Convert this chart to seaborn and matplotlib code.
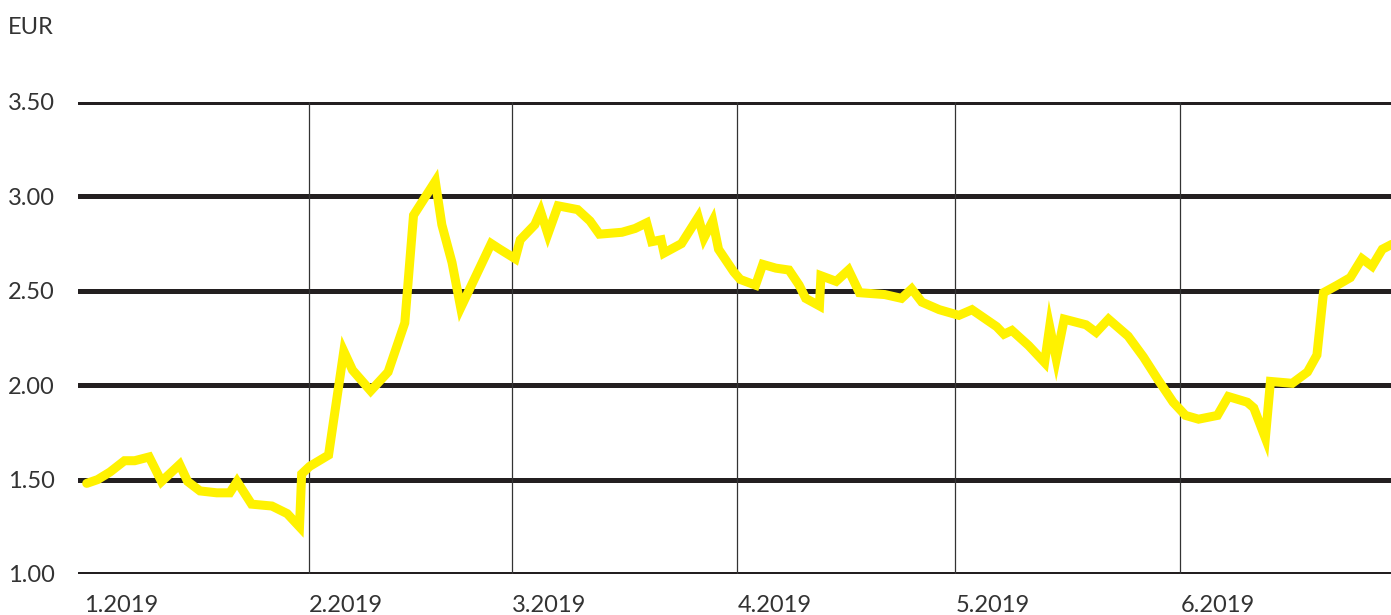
import numpy as np
import pandas as pd
import seaborn as sns
import matplotlib.pyplot as plt

# Share price. x = days since 1 Jan 2019
days = [0.4, 1.9, 3.6, 5.6, 7.0, 9.0, 10.7, 13.2, 14.3, 16.0, 18.3, 20.1, 21.1, 23.1,
        25.9, 28.0, 29.7, 30.0,
        31.1, 33.7, 35.8, 37.0, 39.5, 41.9, 44.2, 45.4, 48.4, 49.3, 50.7, 51.9, 56.1, 57.3,
        59.4, 60.1, 62.1, 62.9, 63.9, 65.3, 68.0, 69.7, 71.0, 74.1, 75.9, 77.5, 78.2, 79.5,
        79.9, 82.3, 84.6, 85.4, 86.6, 87.4, 89.5,
        90.4, 92.5, 93.5, 95.3, 97.1, 98.5, 99.4, 101.3, 101.5, 103.6, 105.3, 106.8, 110.3,
        112.6, 114.0, 115.4, 117.8,
        120.5, 122.3, 125.7, 126.7, 127.8, 130.1, 132.3, 133.0, 133.9, 135.0, 138.0, 139.4,
        141.1, 143.8, 145.9, 147.9, 150.0,
        151.7, 153.5, 156.1, 157.6, 160.2, 161.1, 162.7, 163.4, 166.4, 168.5, 169.8, 170.7,
        172.6, 174.4, 176.0, 177.4, 178.8, 180.3]
price = [1.48, 1.50, 1.54, 1.60, 1.60, 1.62, 1.49, 1.58, 1.49, 1.44, 1.43, 1.43, 1.49, 1.37,
         1.36, 1.32, 1.25, 1.53,
         1.57, 1.63, 2.18, 2.08, 1.97, 2.07, 2.33, 2.90, 3.08, 2.85, 2.65, 2.41, 2.75, 2.72,
         2.67, 2.77, 2.85, 2.92, 2.80, 2.95, 2.93, 2.87, 2.80, 2.81, 2.83, 2.86, 2.76, 2.77,
         2.70, 2.75, 2.89, 2.78, 2.87, 2.72, 2.60,
         2.56, 2.53, 2.64, 2.62, 2.61, 2.53, 2.46, 2.42, 2.58, 2.55, 2.61, 2.49, 2.48,
         2.46, 2.51, 2.44, 2.40,
         2.37, 2.40, 2.31, 2.27, 2.29, 2.21, 2.12, 2.31, 2.14, 2.35, 2.32, 2.28,
         2.35, 2.26, 2.15, 2.03, 1.91,
         1.84, 1.82, 1.84, 1.94, 1.91, 1.88, 1.72, 2.02, 2.01, 2.07, 2.16, 2.49,
         2.53, 2.57, 2.67, 2.63, 2.72, 2.75]

month_starts = [0, 31, 59, 90, 120, 151]
month_labels = ['1.2019', '2.2019', '3.2019', '4.2019', '5.2019', '6.2019']
y_ticks = [1.0, 1.5, 2.0, 2.5, 3.0, 3.5]

df = pd.DataFrame({'day': days, 'price': price})

sns.set_style('white')
plt.rcParams['font.family'] = ['Lato', 'DejaVu Sans']
text_col = '#333333'

fig = plt.figure(figsize=(13.91, 6.15), dpi=100)
ax = fig.add_axes([78 / 1391, 41 / 615, 1 - 78 / 1391, 472 / 615])

# grid
for y in y_ticks:
    ax.axhline(y, color='#231f20', lw=3.6, zorder=1)
for m in month_starts[1:]:
    ax.axvline(m, color='#333333', lw=0.9, zorder=1)

sns.lineplot(data=df, x='day', y='price', ax=ax, color='#fff200', lw=6.5,
             estimator=None, sort=False, zorder=3)
ax.lines[-1].set_solid_joinstyle('miter')

ax.set_xlim(-0.8, 180.0)
ax.set_ylim(1.0, 3.5)
ax.set_xlabel('')
ax.set_ylabel('')
for s in ax.spines.values():
    s.set_visible(False)

ax.set_yticks(y_ticks)
ax.set_yticklabels(['%.2f' % v for v in y_ticks], ha='left')
ax.set_xticks(month_starts)
ax.set_xticklabels(month_labels, ha='left')
ax.tick_params(axis='y', length=0, pad=50.4, labelsize=17, labelcolor=text_col)
ax.tick_params(axis='x', length=0, pad=15, labelsize=17, labelcolor=text_col)

fig.text(8 / 1391, 1 - 27 / 615, 'EUR', fontsize=17, color=text_col, va='center', ha='left')

fig.savefig('out.png', dpi=100)
